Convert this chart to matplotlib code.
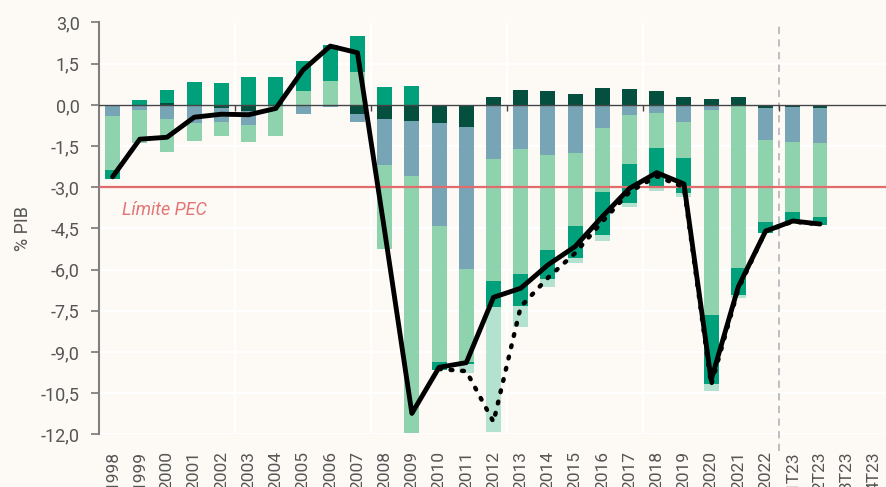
import numpy as np
import matplotlib
matplotlib.use("Agg")
import matplotlib.pyplot as plt
import matplotlib.transforms as mtransforms

plt.rcParams['font.family'] = ['Roboto', 'DejaVu Sans']

# %%
# Data (% PIB)
labels = [str(y) for y in range(1998, 2023)] + ['1T23', '2T23', '3T23', '4T23']

comp_dark = [0, 0, 0.08, 0, -0.10, -0.24, 0, 0, 0, -0.33, -0.50, -0.57, -0.67, -0.81,
             0.30, 0.55, 0.51, 0.40, 0.61, 0.57, 0.51, 0.30, 0.23, 0.27, -0.10, -0.06, -0.12]
comp_blue = [-0.40, -0.18, -0.51, -0.67, -0.51, -0.49, 0, -0.34, -0.08, -0.30, -1.70, -2.02, -3.76, -5.18,
             -1.98, -1.60, -1.82, -1.76, -0.85, -0.36, -0.29, -0.61, -0.18, 0, -1.18, -1.28, -1.28]
comp_light = [-1.97, -1.22, -1.19, -0.63, -0.51, -0.63, -1.12, 0.49, 0.86, 1.21, -3.04, -9.38, -4.93, -3.37,
              -4.44, -4.56, -3.47, -2.64, -2.33, -1.78, -1.28, -1.31, -7.47, -5.95, -2.97, -2.55, -2.67]
comp_teal = [-0.32, 0.17, 0.47, 0.83, 0.79, 1.00, 1.00, 1.10, 1.33, 1.31, 0.64, 0.69, -0.28, -0.08,
             -0.96, -1.15, -1.05, -1.17, -1.56, -1.44, -1.41, -1.28, -2.53, -0.98, -0.40, -0.36, -0.30]
comp_oneoff = [0, 0, 0, 0, 0, 0, 0, 0, 0, 0, 0, 0, 0, -0.32,
               -4.53, -0.79, -0.31, -0.18, -0.21, -0.13, -0.14, -0.17, -0.23, -0.09, 0, 0, 0]

saldo = [-2.62, -1.25, -1.18, -0.45, -0.34, -0.36, -0.13, 1.27, 2.14, 1.90, -4.60, -11.24, -9.56, -9.39,
         -7.01, -6.68, -5.83, -5.16, -4.07, -3.04, -2.47, -2.88, -10.02, -6.62, -4.60, -4.23, -4.34]
# with one-offs, from 2010
saldo_total = [-9.62, -9.70, -11.55, -7.35, -6.30, -5.40, -4.25, -3.17, -2.60, -3.00, -10.20, -6.70,
               -4.60, -4.25, -4.35]

limite_pec = -3.0

colors = ['#054f3f', '#78a5b5', '#8fd3ae', '#00a07a', '#b3e2d0']
bg = '#fdf9f5'

# %%
fig = plt.figure(figsize=(8.86, 4.87), dpi=100, facecolor=bg)
ax = fig.add_axes([99 / 886, 1 - 434.3 / 487, 789 / 886, (434.3 - 22.5) / 487], facecolor=bg)
ax.set_axisbelow(True)

n = len(saldo)
x = np.arange(n)
pos = np.zeros(n)
neg = np.zeros(n)
for vals, c in zip([comp_dark, comp_blue, comp_light, comp_teal, comp_oneoff], colors):
    v = np.array(vals, dtype=float)
    bottom = np.where(v >= 0, pos, neg)
    ax.bar(x, v, bottom=bottom, width=0.55, color=c, linewidth=0, zorder=2)
    pos = pos + np.clip(v, 0, None)
    neg = neg + np.clip(v, None, 0)

# lines
x_tot = np.arange(n - len(saldo_total), n)
ax.plot(x_tot, saldo_total, color='black', lw=3.2, ls=(0, (0.4, 2.2)), dash_capstyle='round', zorder=4)
ax.plot(x, saldo, color='black', lw=3.5, solid_joinstyle='round', solid_capstyle='round', zorder=5)

# reference lines
ax.axhline(0, color='#444444', lw=1, zorder=3)
ax.axhline(limite_pec, color='#e06c6c', lw=1.6, zorder=3)
ax.text(0.35, -3.83, 'Límite PEC', color='#e27676', style='italic', fontsize=13, va='center', ha='left')

seps = [4.5, 9.5, 14.5, 19.5, 24.5]
ax.vlines(seps, -0.22, 0, color='#444444', lw=1, zorder=3)
trans = mtransforms.blended_transform_factory(ax.transData, ax.transAxes)
ax.plot([24.5, 24.5], [-0.04, 1], transform=trans, color='#b8b8bf', lw=1.3, ls=(0, (4, 3)),
        clip_on=False, zorder=2.5)

# grid
ax.set_xticks(seps[:-1], minor=True)
ax.grid(True, which='minor', axis='x', color='white', lw=1.5)
ax.grid(True, which='major', axis='y', color='white', lw=1.5)

ax.set_xlim(-0.5, 28.5)
ax.set_ylim(-12, 3)
yt = np.arange(-12, 3.01, 1.5)
ax.set_yticks(yt)
ax.set_yticklabels([f'{v:.1f}'.replace('.', ',') for v in yt], fontsize=13, color='#555555')
ax.set_xticks(range(len(labels)))
ax.set_xticklabels(labels, rotation=90, fontsize=12.5, color='#555555', va='top')
ax.tick_params(axis='x', which='both', length=0, pad=12)
ax.tick_params(axis='y', length=6, width=1.2, color='#777777', pad=8)
ax.set_ylabel('% PIB', fontsize=13, color='#555555', labelpad=6)

for s in ['top', 'right', 'bottom']:
    ax.spines[s].set_visible(False)
ax.spines['left'].set_color('#7f7f7f')
ax.spines['left'].set_linewidth(1.5)

fig.savefig('out.png', dpi=100, facecolor=bg)
